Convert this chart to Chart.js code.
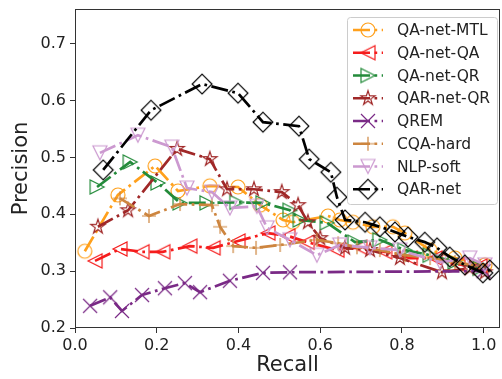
<!DOCTYPE html>
<html>
<head>
<meta charset="utf-8">
<script src="https://cdn.jsdelivr.net/npm/chart.js@4.4.0/dist/chart.umd.min.js"></script>
<style>
  html, body { margin: 0; padding: 0; background: #fff; }
  #wrap { width: 502px; height: 379px; }
</style>
</head>
<body>
<div id="wrap"><canvas id="prChart" width="502" height="379"></canvas></div>
<script>
// Eixos
const xTicks = [0.0, 0.2, 0.4, 0.6, 0.8, 1.0];
const yTicks = [0.2, 0.3, 0.4, 0.5, 0.6, 0.7];

// Séries (recall / precision)
const mtlRecall    = [0.024, 0.105, 0.196, 0.252, 0.330, 0.399, 0.453, 0.509, 0.533, 0.619, 0.648, 0.680, 0.729, 0.778, 0.807, 0.869, 0.930, 1.003];
const mtlPrecision = [0.335, 0.434, 0.485, 0.441, 0.450, 0.448, 0.416, 0.390, 0.386, 0.397, 0.390, 0.386, 0.378, 0.378, 0.367, 0.337, 0.323, 0.311];

const qaRecall    = [0.049, 0.110, 0.164, 0.215, 0.281, 0.338, 0.399, 0.472, 0.521, 0.568, 0.641, 0.697, 0.758, 0.820, 0.881, 0.937, 0.991];
const qaPrecision = [0.318, 0.339, 0.334, 0.334, 0.344, 0.341, 0.353, 0.367, 0.362, 0.351, 0.337, 0.342, 0.334, 0.323, 0.323, 0.312, 0.309];

const qrRecall    = [0.054, 0.135, 0.203, 0.257, 0.323, 0.396, 0.460, 0.526, 0.551, 0.617, 0.685, 0.746, 0.807, 0.869, 0.930, 0.991];
const qrPrecision = [0.448, 0.492, 0.455, 0.420, 0.420, 0.421, 0.420, 0.407, 0.390, 0.385, 0.351, 0.355, 0.337, 0.328, 0.316, 0.305];

const qarQrRecall    = [0.056, 0.130, 0.250, 0.330, 0.372, 0.438, 0.506, 0.546, 0.570, 0.600, 0.661, 0.722, 0.795, 0.898, 0.966, 1.003];
const qarQrPrecision = [0.378, 0.407, 0.515, 0.497, 0.444, 0.444, 0.439, 0.416, 0.386, 0.358, 0.341, 0.337, 0.323, 0.298, 0.305, 0.298];

const qremRecall    = [0.037, 0.086, 0.115, 0.164, 0.220, 0.269, 0.306, 0.379, 0.460, 0.526, 1.000];
const qremPrecision = [0.239, 0.254, 0.230, 0.258, 0.270, 0.279, 0.263, 0.283, 0.297, 0.298, 0.300];

const cqaRecall    = [0.110, 0.181, 0.257, 0.335, 0.355, 0.387, 0.443, 0.502, 0.592, 0.644, 0.690, 0.746, 0.807, 0.869, 0.930, 0.991];
const cqaPrecision = [0.428, 0.397, 0.418, 0.416, 0.378, 0.344, 0.341, 0.346, 0.355, 0.349, 0.342, 0.337, 0.328, 0.323, 0.316, 0.309];

const nlpRecall    = [0.061, 0.154, 0.237, 0.274, 0.335, 0.379, 0.445, 0.470, 0.526, 0.592, 0.648, 0.722, 0.795, 0.893, 0.966, 1.003];
const nlpPrecision = [0.508, 0.539, 0.518, 0.446, 0.439, 0.411, 0.414, 0.376, 0.355, 0.328, 0.346, 0.341, 0.337, 0.316, 0.323, 0.311];

const qarRecall    = [0.069, 0.186, 0.311, 0.399, 0.460, 0.548, 0.573, 0.626, 0.641, 0.661, 0.710, 0.746, 0.783, 0.815, 0.856, 0.886, 0.917, 0.954, 0.998, 1.015];
const qarPrecision = [0.478, 0.583, 0.629, 0.613, 0.562, 0.555, 0.497, 0.474, 0.430, 0.390, 0.386, 0.378, 0.369, 0.360, 0.351, 0.341, 0.325, 0.311, 0.297, 0.302];

const seriesNames  = ['QA-net-MTL', 'QA-net-QA', 'QA-net-QR', 'QAR-net-QR', 'QREM', 'CQA-hard', 'NLP-soft', 'QAR-net'];
const seriesColors = ['#ffa01c', '#f51c1c', '#238b3a', '#a02828', '#7a2a86', '#cd853f', '#cc99d0', '#000000'];
const seriesMarkers = ['circle', 'triLeft', 'triRight', 'star', 'x', 'plus', 'triDown', 'diamond'];
const seriesRecall    = [mtlRecall, qaRecall, qrRecall, qarQrRecall, qremRecall, cqaRecall, nlpRecall, qarRecall];
const seriesPrecision = [mtlPrecision, qaPrecision, qrPrecision, qarQrPrecision, qremPrecision, cqaPrecision, nlpPrecision, qarPrecision];

// Marcadores vazados estilo matplotlib
function makeMarker(kind, color) {
    const h = 7;
    const c = document.createElement('canvas');
    const s = 26;
    c.width = s; c.height = s;
    const ctx = c.getContext('2d');
    const m = s / 2;
    ctx.strokeStyle = color;
    ctx.lineWidth = 1.2;
    ctx.beginPath();
    if (kind === 'circle') {
        ctx.arc(m, m, h, 0, Math.PI * 2);
    } else if (kind === 'triLeft') {
        ctx.moveTo(m - h, m); ctx.lineTo(m + h, m - h); ctx.lineTo(m + h, m + h); ctx.closePath();
    } else if (kind === 'triRight') {
        ctx.moveTo(m + h, m); ctx.lineTo(m - h, m - h); ctx.lineTo(m - h, m + h); ctx.closePath();
    } else if (kind === 'triDown') {
        ctx.moveTo(m, m + h); ctx.lineTo(m - h, m - h); ctx.lineTo(m + h, m - h); ctx.closePath();
    } else if (kind === 'star') {
        const ro = h + 0.5, ri = ro * 0.382;
        for (let k = 0; k < 10; k++) {
            const r = k % 2 === 0 ? ro : ri;
            const a = -Math.PI / 2 + k * Math.PI / 5;
            const px = m + r * Math.cos(a), py = m + r * Math.sin(a);
            if (k === 0) ctx.moveTo(px, py); else ctx.lineTo(px, py);
        }
        ctx.closePath();
    } else if (kind === 'x') {
        ctx.moveTo(m - h, m - h); ctx.lineTo(m + h, m + h);
        ctx.moveTo(m - h, m + h); ctx.lineTo(m + h, m - h);
    } else if (kind === 'plus') {
        ctx.moveTo(m - h, m); ctx.lineTo(m + h, m);
        ctx.moveTo(m, m - h); ctx.lineTo(m, m + h);
    } else if (kind === 'diamond') {
        const d = h * 1.414;
        ctx.moveTo(m, m - d); ctx.lineTo(m + d, m); ctx.lineTo(m, m + d); ctx.lineTo(m - d, m); ctx.closePath();
    }
    ctx.stroke();
    return c;
}

const lineDash = [17, 4.5, 2.7, 4.5];
const markerImages = seriesMarkers.map((k, i) => makeMarker(k, seriesColors[i]));

const datasets = seriesNames.map((name, i) => ({
    label: name,
    data: seriesRecall[i].map((r, j) => ({ x: r, y: seriesPrecision[i][j] })),
    showLine: true,
    borderColor: seriesColors[i],
    backgroundColor: 'transparent',
    borderWidth: 2.7,
    borderDash: lineDash,
    pointStyle: markerImages[i],
    pointRadius: 7,
    tension: 0,
    fill: false,
    order: seriesNames.length - i
}));

// Moldura do gráfico
const framePlugin = {
    id: 'frame',
    afterDraw(chart) {
        const { ctx, chartArea: a } = chart;
        ctx.save();
        ctx.strokeStyle = '#333';
        ctx.lineWidth = 1;
        ctx.strokeRect(a.left + 0.5, a.top + 0.5, a.right - a.left - 1, a.bottom - a.top - 1);
        ctx.restore();
    }
};

// Legenda dentro da área, canto superior direito
const legendPlugin = {
    id: 'prLegend',
    afterDraw(chart) {
        const ctx = chart.ctx;
        const a = chart.chartArea;
        const bx = a.right - 153, by = a.top + 8, bw = 150, bh = 187;
        ctx.save();
        ctx.beginPath();
        ctx.roundRect(bx + 0.5, by + 0.5, bw, bh, 3);
        ctx.fillStyle = 'rgba(255,255,255,0.8)';
        ctx.fill();
        ctx.strokeStyle = '#cccccc';
        ctx.lineWidth = 1;
        ctx.stroke();
        ctx.font = '15.5px "DejaVu Sans"';
        ctx.textBaseline = 'middle';
        ctx.fillStyle = '#222';
        seriesNames.forEach((name, i) => {
            const y = by + 13 + i * 22.75;
            ctx.strokeStyle = seriesColors[i];
            ctx.lineWidth = 2.7;
            ctx.setLineDash(lineDash);
            ctx.beginPath();
            ctx.moveTo(bx + 6, y);
            ctx.lineTo(bx + 36, y);
            ctx.stroke();
            ctx.setLineDash([]);
            const img = markerImages[i];
            ctx.drawImage(img, bx + 21 - img.width / 2, y - img.height / 2);
            ctx.fillText(name, bx + 50, y + 1);
        });
        ctx.restore();
    }
};

Chart.defaults.font.family = "'DejaVu Sans', sans-serif";
Chart.defaults.font.size = 16;
Chart.defaults.color = '#222';

new Chart(document.getElementById('prChart'), {
    type: 'scatter',
    data: { datasets: datasets },
    options: {
        responsive: false,
        animation: false,
        events: [],
        layout: { autoPadding: false, padding: { top: 9, right: 2, left: 0, bottom: 0 } },
        plugins: {
            legend: { display: false },
            tooltip: { enabled: false }
        },
        scales: {
            x: {
                type: 'linear',
                min: 0,
                max: 1.04,
                afterFit: function(scale) {
                    scale.height = 51;
                    scale.paddingLeft = 0;
                    scale.paddingRight = 0;
                },
                afterBuildTicks: function(scale) { scale.ticks = xTicks.map(v => ({ value: v })); },
                ticks: {
                    padding: 3,
                    maxRotation: 0,
                    callback: function(value) { return Number(value).toFixed(1); }
                },
                grid: { drawOnChartArea: false, drawTicks: true, tickLength: 5, color: '#333' },
                border: { display: false },
                title: { display: true, text: 'Recall', font: { size: 21 }, padding: { top: 0, bottom: 1 } }
            },
            y: {
                type: 'linear',
                min: 0.2,
                max: 0.761,
                afterFit: function(scale) {
                    scale.width = 75;
                    scale.paddingTop = 0;
                    scale.paddingBottom = 0;
                },
                afterBuildTicks: function(scale) { scale.ticks = yTicks.map(v => ({ value: v })); },
                ticks: {
                    padding: 4,
                    callback: function(value) { return Number(value).toFixed(1); }
                },
                grid: { drawOnChartArea: false, drawTicks: true, tickLength: 5, color: '#333' },
                border: { display: false },
                title: { display: true, text: 'Precision', font: { size: 21 }, padding: { top: 9, bottom: 0 } }
            }
        }
    },
    plugins: [framePlugin, legendPlugin]
});
</script>
</body>
</html>
